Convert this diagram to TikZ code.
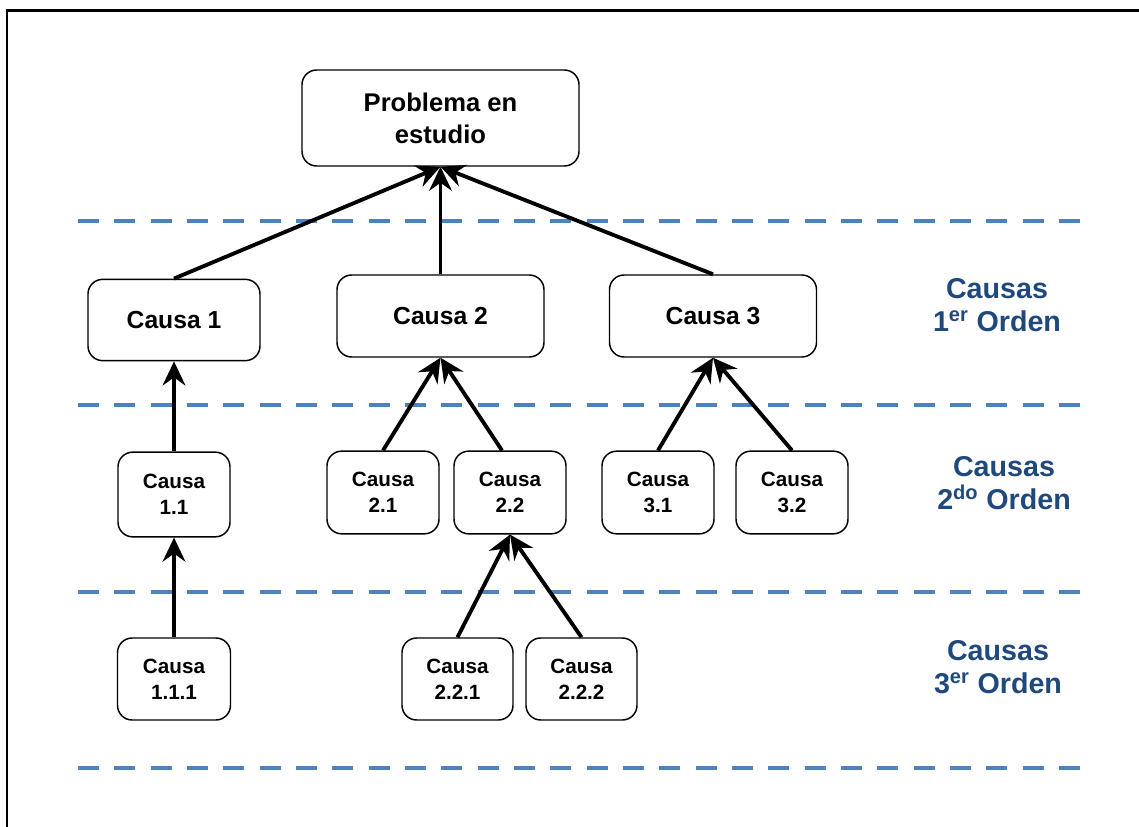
\documentclass[tikz,border=0pt]{standalone}
\usepackage{fontspec}
\setmainfont{Liberation Sans}
\usetikzlibrary{arrows.meta}
\definecolor{levelblue}{RGB}{79,129,189}
\definecolor{labelblue}{RGB}{31,73,125}
\tikzset{
  box/.style={draw=black, line width=1.1pt, rounded corners=11pt, inner sep=0pt,
    align=center, font=\bfseries\fontsize{18.5}{24}\selectfont},
  smallbox/.style={box, minimum width=84pt, minimum height=62pt,
    font=\bfseries\fontsize{15.5}{19.5}\selectfont},
  link/.style={line width=2.9pt, -{Stealth[length=18pt, width=17pt, inset=6pt]}},
  levelline/.style={levelblue, line width=3.2pt, dash pattern=on 15.75pt off 11.5pt},
  levellabel/.style={text=labelblue, align=center, font=\bfseries\fontsize{21.5}{24.5}\selectfont}
}
\begin{document}
\begin{tikzpicture}[x=0.75pt, y=-0.75pt]
  \useasboundingbox (0,0) rectangle (1139,827);
  % frame: top and left edges only
  \draw[line width=1.6pt] (7,827) -- (7,10.5) -- (1139,10.5);

  % level separators
  \foreach \yy in {221,405,592,768}
    \draw[levelline] (78,\yy) -- (1080,\yy);

  % root
  \node[box, minimum width=207.75pt, minimum height=72pt,
        font=\bfseries\fontsize{19.2}{24}\selectfont] (p) at (440.5,118) {Problema en\\estudio};

  % first order
  \node[box, minimum width=129pt, minimum height=61pt] (c1) at (174,320) {Causa 1};
  \node[box, minimum width=155.25pt, minimum height=61.5pt] (c2) at (440.5,316) {Causa 2};
  \node[box, minimum width=155.25pt, minimum height=61.5pt] (c3) at (713,316) {Causa 3};

  % second order
  \node[smallbox, minimum height=63.5pt] (c11) at (174,494.5) {Causa\\1.1};
  \node[smallbox] (c21) at (383,492.5) {Causa\\2.1};
  \node[smallbox] (c22) at (510,492.5) {Causa\\2.2};
  \node[smallbox] (c31) at (658,492.5) {Causa\\3.1};
  \node[smallbox] (c32) at (792,492.5) {Causa\\3.2};

  % third order
  \node[smallbox, minimum width=84.75pt, minimum height=61.5pt] (c111) at (174,679) {Causa\\1.1.1};
  \node[smallbox, minimum width=83.25pt, minimum height=61.5pt] (c221) at (457.5,679) {Causa\\2.2.1};
  \node[smallbox, minimum width=83.25pt, minimum height=61.5pt] (c222) at (581.5,679) {Causa\\2.2.2};

  % cause -> effect connectors
  \draw[link] (c1.north) -- (p.south);
  \draw[link] (c2.north) -- (p.south);
  \draw[link] (c3.north) -- (p.south);
  \draw[link] (c11.north) -- (c1.south);
  \draw[link] (c21.north) -- (c2.south);
  \draw[link] ([xshift=-6pt]c22.north) -- (c2.south);
  \draw[link] (c31.north) -- (c3.south);
  \draw[link] (c32.north) -- (c3.south);
  \draw[link] (c111.north) -- (c11.south);
  \draw[link] (c221.north) -- (c22.south);
  \draw[link] (c222.north) -- (c22.south);

  % level labels
  \node[levellabel] (l1) at (997,305) {Causas\\1\textsuperscript{er} Orden};
  \node[levellabel] (l2) at (1004,483) {Causas\\2\textsuperscript{do} Orden};
  \node[levellabel] (l3) at (998,667) {Causas\\3\textsuperscript{er} Orden};
\end{tikzpicture}
\end{document}
